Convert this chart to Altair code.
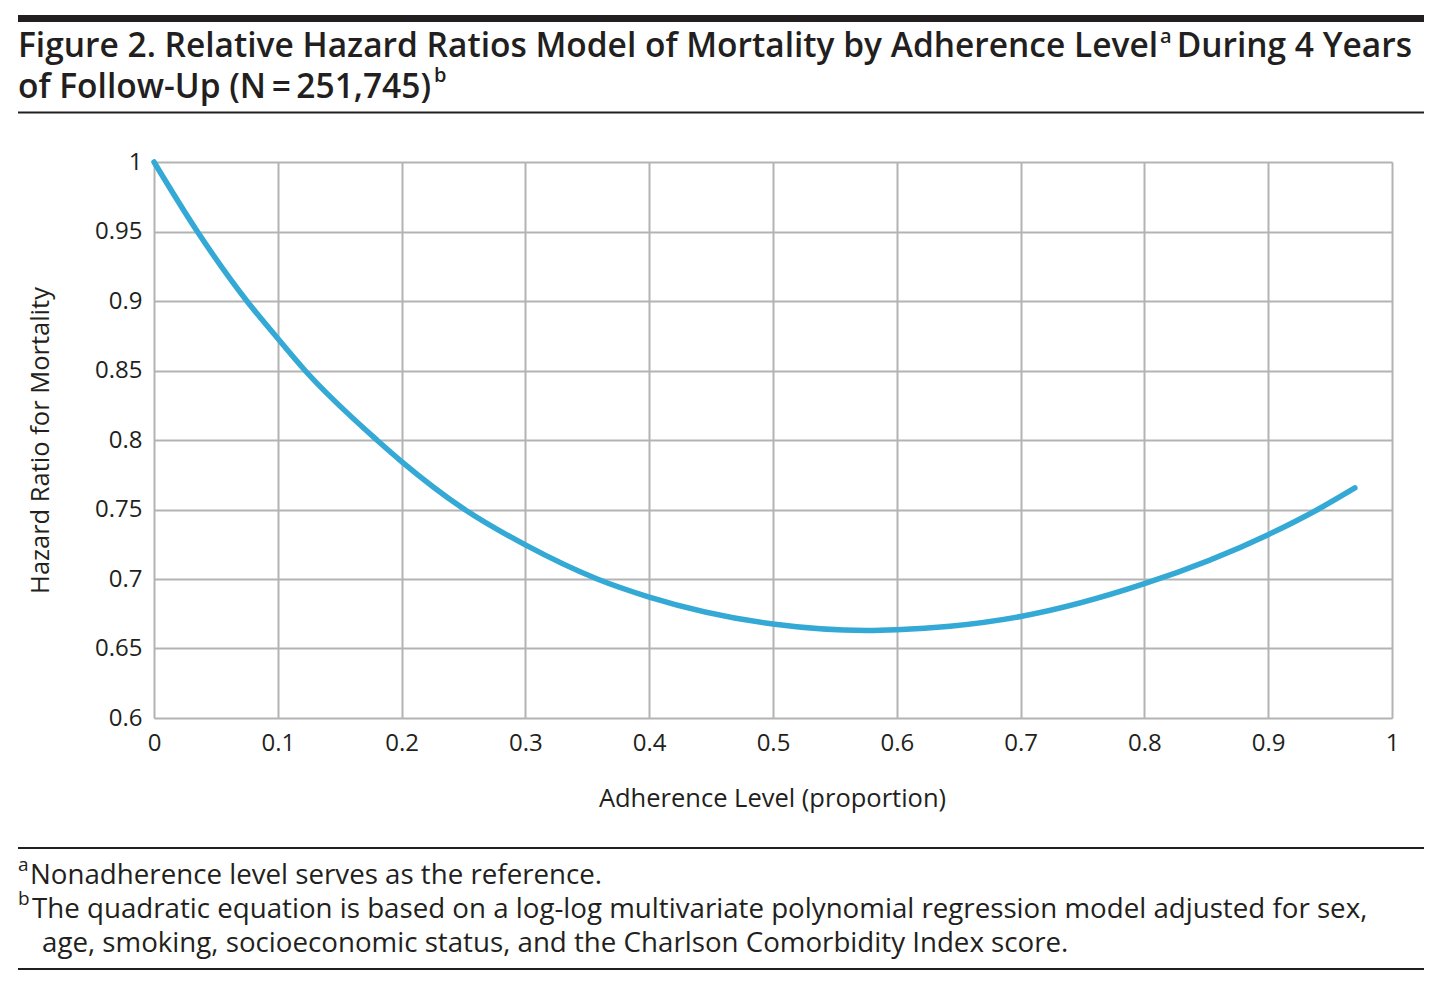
import altair as alt
import pandas as pd

# ---- data ----
adherence = [0.0, 0.035, 0.075, 0.1, 0.122, 0.18, 0.2, 0.251, 0.3, 0.358, 0.4,
             0.5, 0.576, 0.6, 0.643, 0.7, 0.8, 0.9, 0.94, 0.97]
hazard_ratio = [1.0, 0.95, 0.90, 0.873, 0.85, 0.80, 0.7845, 0.75, 0.7245, 0.70, 0.687,
                0.6676, 0.663, 0.6635, 0.666, 0.673, 0.6966, 0.7319, 0.75, 0.7655]

x_ticks = [0, 0.1, 0.2, 0.3, 0.4, 0.5, 0.6, 0.7, 0.8, 0.9, 1.0]
y_ticks = [0.6, 0.65, 0.7, 0.75, 0.8, 0.85, 0.9, 0.95, 1.0]

title_line1_a = "Figure 2. Relative Hazard Ratios Model of Mortality by Adherence Level"
title_line1_b = "During 4 Years"
title_line2 = "of Follow-Up (N\u2009=\u2009251,745)"
footnote_a = "Nonadherence level serves as the reference."
footnote_b1 = "The quadratic equation is based on a log-log multivariate polynomial regression model adjusted for sex,"
footnote_b2 = "age, smoking, socioeconomic status, and the Charlson Comorbidity Index score."
x_title = "Adherence Level (proportion)"
y_title = "Hazard Ratio for Mortality"

INK = "#231f20"
GRID = "#b3b3b3"
BLUE = "#34a9d6"
FONT = "Open Sans"

W, H = 1238, 556

df = pd.DataFrame({"x": adherence, "y": hazard_ratio})

curve = alt.Chart(df).mark_line(
    color=BLUE, strokeWidth=5.5, interpolate="monotone", strokeCap="round"
).encode(
    x=alt.X("x:Q", scale=alt.Scale(domain=[0, 1], nice=False),
            axis=alt.Axis(values=x_ticks, format="~g", title=x_title,
                          grid=True, gridColor=GRID, gridWidth=2,
                          domain=False, ticks=False, labelFlush=False,
                          labelFontSize=24, labelColor=INK, labelFont=FONT,
                          labelPadding=13,
                          titleFontSize=25.5, titleColor=INK, titleFont=FONT,
                          titleFontWeight="normal",
                          titleX=618, titleY=80, titleBaseline="middle")),
    y=alt.Y("y:Q", scale=alt.Scale(domain=[0.6, 1.0], nice=False, zero=False),
            axis=alt.Axis(values=y_ticks, format="~g", title=y_title,
                          grid=True, gridColor=GRID, gridWidth=2,
                          domain=False, ticks=False, labelFlush=False,
                          labelFontSize=24, labelColor=INK, labelFont=FONT,
                          labelPadding=12,
                          titleFontSize=25.5, titleColor=INK, titleFont=FONT,
                          titleFontWeight="normal",
                          titleX=-114, titleY=278, titleAngle=270,
                          titleAlign="center", titleBaseline="middle")),
)


def rule(y, width):
    return alt.Chart(pd.DataFrame({"k": [0]})).mark_rule(
        color=INK, strokeWidth=width
    ).encode(x=alt.value(-136), x2=alt.value(1270), y=alt.value(y))


def text(s, x, y, size, weight="normal", align="left"):
    return alt.Chart(pd.DataFrame({"t": [s]})).mark_text(
        align=align, baseline="alphabetic", fontSize=size, font=FONT,
        fontWeight=weight, color=INK
    ).encode(text="t:N", x=alt.value(x), y=alt.value(y))


layers = [
    curve,
    rule(-143.5, 7),
    rule(-49.5, 2),
    rule(686, 2),
    rule(807, 2),
    # title
    text(title_line1_a, -136, -105, 33.5, 600),
    text("a", 1006, -119, 20, 600),
    text(title_line1_b, 1258, -105, 33.5, 600, "right"),
    text(title_line2, -136, -64, 33.5, 600),
    text("b", 280, -80, 20, 600),
    # footnotes
    text("a", -136, 709, 19),
    text(footnote_a, -124, 722, 27.7),
    text("b", -136, 743, 19),
    text(footnote_b1, -122, 756, 27.7),
    text(footnote_b2, -112, 790, 27.7),
]

chart = alt.layer(*layers).properties(
    width=W, height=H,
    autosize=alt.AutoSizeParams(type="none"),
    padding={"left": 146, "top": 154, "right": 46, "bottom": 258},
).configure_view(stroke=None).configure(background="white")

chart.save("out.html", embed_options={"renderer": "svg", "actions": False})
